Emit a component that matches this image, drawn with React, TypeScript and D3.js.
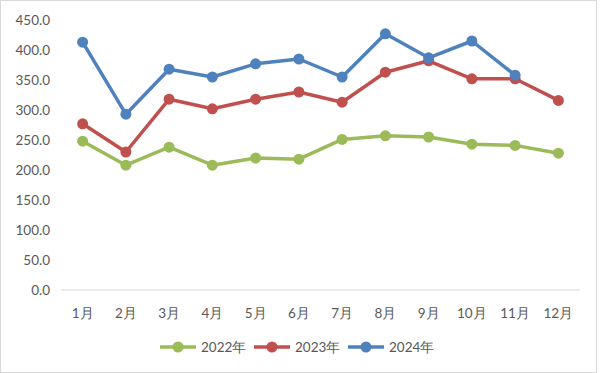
import React from "react";
import * as d3 from "d3";

const months = ["1月", "2月", "3月", "4月", "5月", "6月", "7月", "8月", "9月", "10月", "11月", "12月"];
const s2022 = [248, 208, 238, 208, 220, 218, 251, 257, 255, 243, 241, 228];
const s2023 = [277, 230, 318, 302, 318, 330, 313, 363, 382, 352, 352, 316];
const s2024 = [413, 293, 368, 355, 377, 385, 355, 427, 387, 415, 358];
const yTicks = [0, 50, 100, 150, 200, 250, 300, 350, 400, 450];
const seriesNames = ["2022年", "2023年", "2024年"];
const colors = ["#9BBB59", "#C0504D", "#4F81BD"];

export default function App() {
  const W = 600, H = 373;
  const x = d3.scaleBand<string>().domain(months).range([61, 580]);
  const y = d3.scaleLinear().domain([0, 450]).range([290, 20]);
  const cx = (m: string) => (x(m) as number) + x.bandwidth() / 2;
  const line = d3.line<[string, number]>().x(d => cx(d[0])).y(d => y(d[1]));
  const all = [s2022, s2023, s2024];
  const font = "Lato, 'Open Sans', sans-serif";
  const legendX = [160, 254, 348];
  return (
    <svg width={W} height={H} style={{ position: "absolute", left: 0, top: 0, background: "#fff" }}>
      <rect x={0.5} y={0.5} width={W - 4} height={H - 1} fill="#fff" stroke="#d9d9d9" />
      <line x1={61} x2={580} y1={y(0)} y2={y(0)} stroke="#d9d9d9" strokeWidth={1} />
      {yTicks.map(t => (
        <text key={t} x={50} y={y(t)} dy="0.35em" textAnchor="end" fontSize={13.5} fill="#595959" fontFamily={font}>
          {t.toFixed(1)}
        </text>
      ))}
      {months.map(m => (
        <text key={m} x={cx(m)} y={313} dy="0.35em" textAnchor="middle" fontSize={13.5} fill="#595959" fontFamily={font}>
          {m}
        </text>
      ))}
      {all.map((s, i) => {
        const pts: [string, number][] = s.map((v, j) => [months[j], v]);
        return (
          <g key={i}>
            <path d={line(pts) as string} fill="none" stroke={colors[i]} strokeWidth={3.5} strokeLinejoin="round" />
            {pts.map((p, j) => (
              <circle key={j} cx={cx(p[0])} cy={y(p[1])} r={5.5} fill={colors[i]} />
            ))}
          </g>
        );
      })}
      {seriesNames.map((n, i) => (
        <g key={n} transform={`translate(${legendX[i]},347)`}>
          <line x1={0} x2={36} y1={0} y2={0} stroke={colors[i]} strokeWidth={3.5} />
          <circle cx={18} cy={0} r={5.5} fill={colors[i]} />
          <text x={41} y={0} dy="0.35em" fontSize={13.5} fill="#595959" fontFamily={font}>{n}</text>
        </g>
      ))}
    </svg>
  );
}
